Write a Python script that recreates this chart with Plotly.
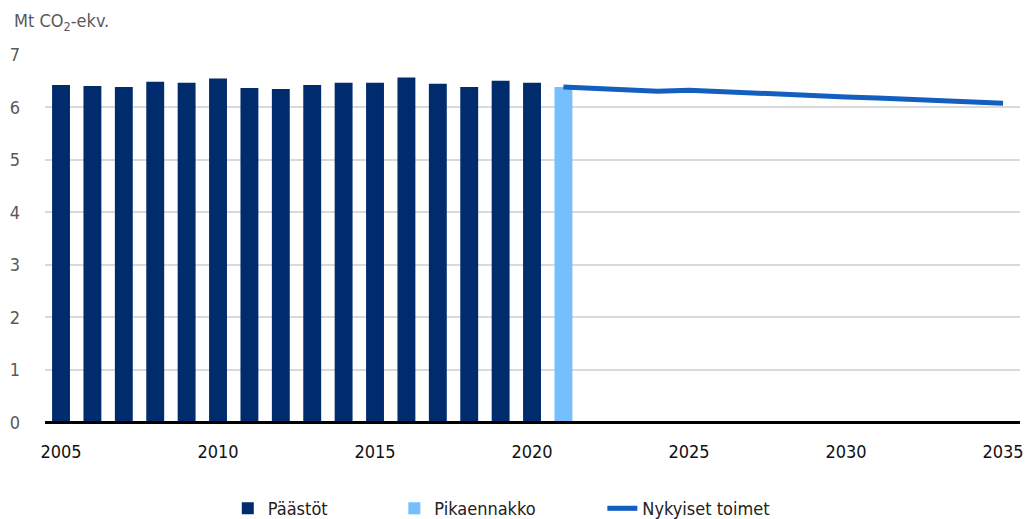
import plotly.graph_objects as go

years_hist = list(range(2005, 2021))
paastot = [6.43, 6.41, 6.39, 6.49, 6.47, 6.55, 6.37, 6.35, 6.43, 6.47, 6.47, 6.57, 6.45, 6.39, 6.51, 6.47]
years_pika = [2021]
pikaennakko = [6.39]
years_proj = list(range(2021, 2036))
nykyiset = [6.39, 6.37, 6.34, 6.31, 6.33, 6.30, 6.27, 6.25, 6.22, 6.20, 6.18, 6.16, 6.14, 6.11, 6.08]
x_ticks = [2005, 2010, 2015, 2020, 2025, 2030, 2035]
y_ticks = [0, 1, 2, 3, 4, 5, 6, 7]

FONT = "DejaVu Sans Condensed, Liberation Sans Narrow, sans-serif"
FS = 18

fig = go.Figure()
fig.add_trace(go.Bar(x=years_hist, y=paastot, name="Päästöt" + "\u00a0" * 12, marker_color="#002B6C",
                     marker_line_width=0, width=0.57))
fig.add_trace(go.Bar(x=years_pika, y=pikaennakko, name="Pikaennakko" + "\u00a0" * 12, marker_color="#75BFFF",
                     marker_line_width=0, width=0.57))
fig.add_trace(go.Scatter(x=years_proj, y=nykyiset, name="Nykyiset toimet", mode="lines",
                         line=dict(color="#135EBF", width=5)))

fig.add_shape(type="line", xref="paper", yref="y", x0=0, x1=1, y0=0, y1=0,
              line=dict(color="black", width=3), layer="above")

fig.add_annotation(xref="paper", yref="paper", x=-0.034, y=1.09, xanchor="left", yanchor="middle",
                   text="Mt CO<sub>2</sub>-ekv.", showarrow=False,
                   font=dict(family=FONT, size=FS, color="#595959"))

fig.update_layout(
    width=1027, height=519,
    margin=dict(l=45, r=7, t=55, b=94.4, autoexpand=False),
    plot_bgcolor="white", paper_bgcolor="white",
    font=dict(family=FONT, size=FS, color="#222222"),
    barmode="overlay",
    showlegend=True,
    legend=dict(orientation="h", x=0.468, xanchor="center", y=-0.226, yanchor="middle",
                font=dict(family=FONT, size=FS, color="#222222"),
                itemwidth=30),
    xaxis=dict(range=[2004.49, 2035.54], tickmode="array", tickvals=x_ticks,
               ticktext=[str(v) for v in x_ticks], showgrid=False, zeroline=False,
               showline=False, ticks="", ticklabelstandoff=14, ticklabeloverflow="allow",
               tickfont=dict(family=FONT, size=FS, color="#111111")),
    yaxis=dict(range=[-0.05, 7], tickmode="array", tickvals=y_ticks,
               showgrid=True, gridcolor="#D9D9D9", gridwidth=2, zeroline=False,
               showline=False, ticks="", ticklabelstandoff=24,
               tickfont=dict(family=FONT, size=FS, color="#595959")),
)

fig.write_html("out.html", config={"displayModeBar": False},
               post_script="document.body.style.margin='0';document.body.style.overflow='hidden';")
